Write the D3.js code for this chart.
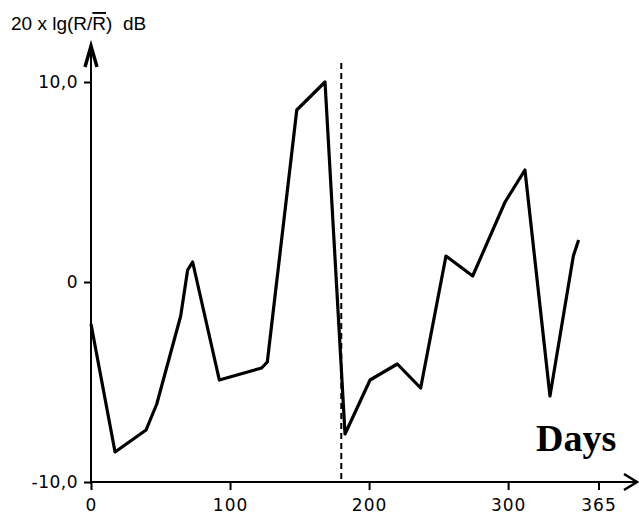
<!DOCTYPE html>
<html>
<head>
<meta charset="utf-8">
<title>Relative level over one year</title>
<script src="https://cdn.jsdelivr.net/npm/d3@7"></script>
<style>
  body { margin: 0; background: #fff; }
  svg { display: block; }
  .tick text { font-family: "DejaVu Sans", sans-serif; font-size: 17px; fill: #000; }
  .tick line { stroke: #000; stroke-width: 2; }
</style>
</head>
<body>
<svg class="canvas" width="639" height="518"></svg>
<script>
"use strict";

// day of year and 20 x lg(R/Rmean) in dB
const days = [0, 17.3, 39.6, 47.3, 64.5, 69.5, 73.1, 92.3, 122.7, 126.8, 148, 168.3,
  182.7, 200.7, 220.3, 237.1, 255.3, 274.5, 297.8, 312.1, 330.1, 346.9, 350.7];
const levels = [-2.1, -8.5, -7.4, -6.1, -1.7, 0.6, 1.0, -4.9, -4.3, -4.0, 8.6, 10.0,
  -7.6, -4.9, -4.1, -5.3, 1.3, 0.3, 4.0, 5.6, -5.7, 1.3, 2.1];

const xTicks = [0, 100, 200, 300, 365];
const yTicks = [-10, 0, 10];
const yTickLabels = ["-10,0", "0", "10,0"];
const markerDay = 180; // dashed vertical line

function render() {
  const svg = d3.select(".canvas");
  const x = d3.scaleLinear().domain([0, 365]).range([91, 598.5]);
  const y = d3.scaleLinear().domain([-10, 10]).range([482, 82]);
  const x0 = x(0);
  const y0 = y(-10);

  // axes, ticks only - the axis lines are drawn by hand to get the arrows
  const xAxis = svg.append("g")
    .attr("transform", `translate(0,${y0})`)
    .call(d3.axisBottom(x).tickValues(xTicks).tickSize(8).tickPadding(9).tickFormat(d3.format("d")));
  xAxis.select(".domain").remove();
  xAxis.selectAll(".tick text").attr("letter-spacing", 1);

  const yAxis = svg.append("g")
    .attr("transform", `translate(${x0},0)`)
    .call(d3.axisLeft(y).tickValues(yTicks).tickSize(7).tickPadding(6)
      .tickFormat((d, i) => yTickLabels[i]));
  yAxis.select(".domain").remove();
  yAxis.selectAll(".tick text").attr("letter-spacing", 0.5);

  // axis lines with arrow heads
  svg.append("line")
    .attr("x1", x0).attr("x2", 637).attr("y1", y0).attr("y2", y0)
    .attr("stroke", "#000").attr("stroke-width", 2);
  svg.append("path")
    .attr("d", `M624,${y0 - 8}L637,${y0}L624,${y0 + 8}`)
    .attr("fill", "none").attr("stroke", "#000").attr("stroke-width", 2.5);

  svg.append("line")
    .attr("x1", x0).attr("x2", x0).attr("y1", y0 + 2).attr("y2", 46)
    .attr("stroke", "#000").attr("stroke-width", 2);
  svg.append("path")
    .attr("d", `M${x0 - 6},67L${x0},46L${x0 + 6},67`)
    .attr("fill", "none").attr("stroke", "#000").attr("stroke-width", 3.5);

  // dashed marker
  svg.append("line")
    .attr("x1", x(markerDay)).attr("x2", x(markerDay))
    .attr("y1", 63).attr("y2", y0)
    .attr("stroke", "#000").attr("stroke-width", 2)
    .attr("stroke-dasharray", "6,4");

  // the series
  const line = d3.line()
    .x(i => x(days[i]))
    .y(i => y(levels[i]));
  svg.append("path")
    .datum(d3.range(days.length))
    .attr("d", line)
    .attr("fill", "none")
    .attr("stroke", "#000")
    .attr("stroke-width", 3.2)
    .attr("stroke-linejoin", "round");

  // titles
  const title = svg.append("text")
    .attr("x", 11).attr("y", 30)
    .attr("font-family", "Liberation Sans, Arial, sans-serif")
    .attr("font-size", 19)
    .style("white-space", "pre");
  title.append("tspan").text("20 x lg(R/");
  title.append("tspan").text("R").style("text-decoration", "overline");
  title.append("tspan").text(")  dB");

  svg.append("text")
    .attr("x", 536).attr("y", 451)
    .attr("font-family", "Liberation Serif, Times New Roman, serif")
    .attr("font-weight", "bold")
    .attr("font-size", 38)
    .text("Days");
}

function load() {
  try {
    render();
  } catch (err) {
    console.error(err);
  }
}

window.onload = load;
</script>
</body>
</html>
